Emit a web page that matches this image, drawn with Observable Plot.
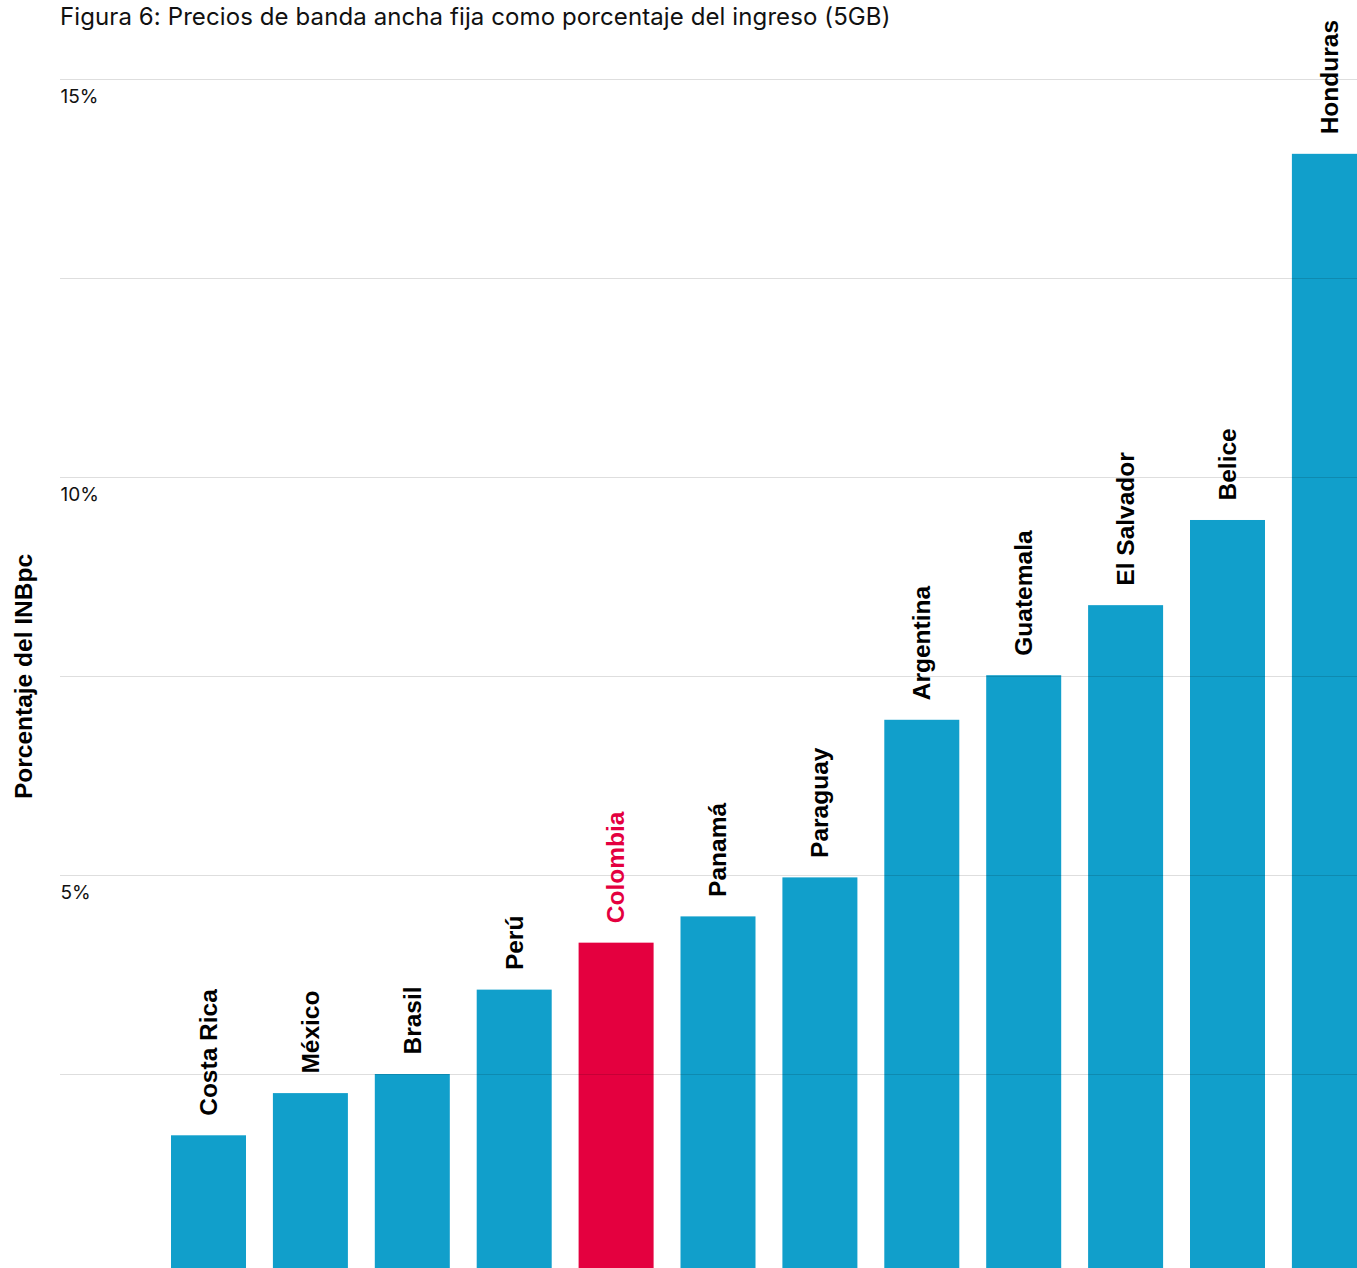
<!DOCTYPE html>
<html>
<head>
<meta charset="utf-8">
<script src="https://cdn.jsdelivr.net/npm/d3@7"></script>
<script src="https://cdn.jsdelivr.net/npm/@observablehq/plot@0.6"></script>
<style>
  body { margin: 0; background: #fff; position: relative; }
  #title { position: absolute; left: 60px; top: 3px; z-index: 2;
    font-family: Inter, "Noto Sans", sans-serif; font-size: 24px; line-height: 28px; color: #111; letter-spacing: 0.1px; white-space: nowrap; }
  svg { display: block; }
</style>
</head>
<body>
<div id="title">Figura 6: Precios de banda ancha fija como porcentaje del ingreso (5GB)</div>
<div id="chart"></div>
<script>
const countries = ["Costa Rica", "México", "Brasil", "Perú", "Colombia", "Panamá", "Paraguay", "Argentina", "Guatemala", "El Salvador", "Belice", "Honduras"];
const values = [1.73, 2.26, 2.5, 3.56, 4.15, 4.48, 4.97, 6.95, 7.51, 8.39, 9.46, 14.06];
const highlight = "Colombia";
const gridTicks = [2.5, 5, 7.5, 10, 12.5, 15];
const labelTicks = [5, 10, 15];
const yLabel = "Porcentaje del INBpc";

const blue = "#119fcb";
const red = "#e4003f";

const data = countries.map((c, i) => ({country: c, value: values[i]}));

const chart = Plot.plot({
  width: 1357,
  height: 1268,
  marginLeft: 60,
  marginRight: 0,
  marginTop: 0,
  marginBottom: 0,
  style: {fontFamily: "Inter, 'Noto Sans', sans-serif", background: "#fff"},
  x: {domain: countries, range: [144.1, 1393.8], padding: 0.264, round: false, axis: null},
  y: {domain: [0, 15], range: [1273, 79], axis: null},
  color: {type: "identity"},
  marks: [
    Plot.barY(data, {x: "country", y: "value", fill: d => d.country === highlight ? red : blue}),
    Plot.ruleY(gridTicks, {stroke: "#000", strokeOpacity: 0.13, strokeWidth: 1}),
    Plot.text(labelTicks, {y: d => d, text: d => d + "%", frameAnchor: "left", textAnchor: "start", dy: 17, fontSize: 19, fill: "#111"}),
    Plot.text([yLabel], {y: [7.5], text: d => d, frameAnchor: "left", textAnchor: "middle", dx: -36, rotate: -90, fontSize: 24.5, fontWeight: "bold", fontFamily: "'Liberation Sans', Arial, sans-serif", fill: "#000"}),
    Plot.text(data, {x: "country", y: "value", text: "country", rotate: -90, textAnchor: "start", dy: -20, fontSize: 24.5, fontWeight: "bold", fontFamily: "'Liberation Sans', Arial, sans-serif", fill: d => d.country === highlight ? red : "#000"})
  ]
});
document.getElementById("chart").appendChild(chart);
</script>
</body>
</html>
